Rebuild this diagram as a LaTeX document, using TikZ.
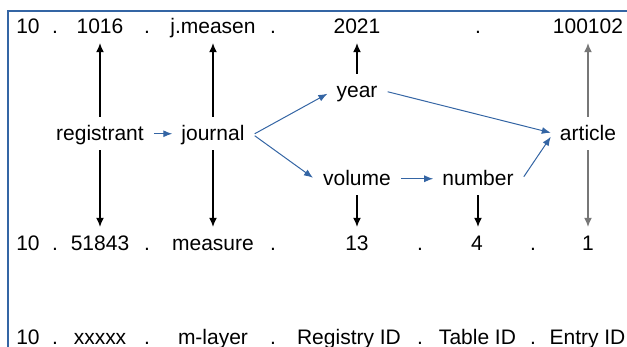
\documentclass[tikz,border=0pt]{standalone}
\usepackage{fontspec}
\setmainfont{Liberation Sans}
\usetikzlibrary{arrows.meta,calc}
\definecolor{lblue}{HTML}{3465A4}
\definecolor{agray}{HTML}{777777}
\begin{document}
\begin{tikzpicture}[x=1pt,y=-1pt,
  lbl/.style={font=\fontsize{21}{25}\selectfont, text height=15pt, text depth=4.5pt, inner sep=0pt, anchor=base},
  uparr/.style={draw=black, line width=1.2pt, -{Latex[length=9pt,width=8pt]}, shorten <=9pt, shorten >=4.5pt},
  downarr/.style={draw=black, line width=1.2pt, -{Latex[length=9pt,width=8pt]}, shorten <=4.5pt, shorten >=9pt},
  barr/.style={draw=lblue, line width=1pt, -{Latex[length=9pt,width=7pt]}},
  frame/.style={draw=lblue, line width=1.6pt}]
\useasboundingbox (0,0) rectangle (627,347);
\draw[frame] (8,347) -- (8,11) -- (627,11);
% row 1
\node[lbl] (t10) at (28,34) {10};
\node[lbl] (td1) at (55,34) {.};
\node[lbl] (t1016) at (100,34) {1016};
\node[lbl] (td2) at (147,34) {.};
\node[lbl] (tjm) at (213,34) {j.measen};
\node[lbl] (td3) at (273,34) {.};
\node[lbl] (t2021) at (357,34) {2021};
\node[lbl] (td4) at (478,34) {.};
\node[lbl] (t100102) at (588,34) {100102};
% middle
\node[lbl] (reg) at (100,141) {registrant};
\node[lbl] (jour) at (213,141) {journal};
\node[lbl] (year) at (357,98) {year};
\node[lbl] (art) at (588,141) {article};
\node[lbl] (vol) at (357,186) {volume};
\node[lbl] (num) at (478,186) {number};
% row 2
\node[lbl] (b10) at (28,251) {10};
\node[lbl] (bd1) at (55,251) {.};
\node[lbl] (b51843) at (100,251) {51843};
\node[lbl] (bd2) at (147,251) {.};
\node[lbl] (bmeas) at (213,251) {measure};
\node[lbl] (bd3) at (273,251) {.};
\node[lbl] (b13) at (357,251) {13};
\node[lbl] (bd4) at (420,251) {.};
\node[lbl] (b4) at (477,251) {4};
\node[lbl] (bd5) at (533,251) {.};
\node[lbl] (b1) at (588,251) {1};
% row 3
\node[lbl] (c10) at (28,345) {10};
\node[lbl] (cd1) at (55,345) {.};
\node[lbl] (cx) at (100,345) {xxxxx};
\node[lbl] (cd2) at (147,345) {.};
\node[lbl] (cm) at (213,345) {m-layer};
\node[lbl] (cd3) at (273,345) {.};
\node[lbl] (creg) at (349,345) {Registry ID};
\node[lbl] (cd4) at (420,345) {.};
\node[lbl] (ctab) at (477.5,345) {Table ID};
\node[lbl] (cd5) at (533,345) {.};
\node[lbl] (cent) at (587.5,345) {Entry ID};
% black arrows
\draw[uparr] (reg.north) -- (t1016.south);
\draw[downarr] (reg.south) -- (b51843.north);
\draw[uparr] (jour.north) -- (tjm.south);
\draw[downarr] (jour.south) -- (bmeas.north);
\draw[uparr] (year.north) -- (t2021.south);
\draw[downarr] (vol.south) -- (b13.north);
\draw[downarr] (num.south) -- (num.south |- b4.north);
\draw[uparr, draw=agray] (art.north) -- (t100102.south);
\draw[downarr, draw=agray] (art.south) -- (b1.north);
% blue arrows
\draw[barr] ($(reg.east)+(10,-2)$) -- ($(jour.west)+(-9,-2)$);
\draw[barr] ($(jour.east)+(10,-2)$) -- ($(year.west)+(-9,1)$);
\draw[barr] ($(jour.east)+(10,0)$) -- ($(vol.west)+(-10,-3)$);
\draw[barr] ($(year.east)+(10,-1)$) -- ($(art.west)+(-9,-3)$);
\draw[barr] ($(vol.east)+(10,-2)$) -- ($(num.west)+(-9,-2)$);
\draw[barr] ($(num.east)+(10,-4)$) -- ($(art.west)+(-9,1)$);
\end{tikzpicture}
\end{document}
